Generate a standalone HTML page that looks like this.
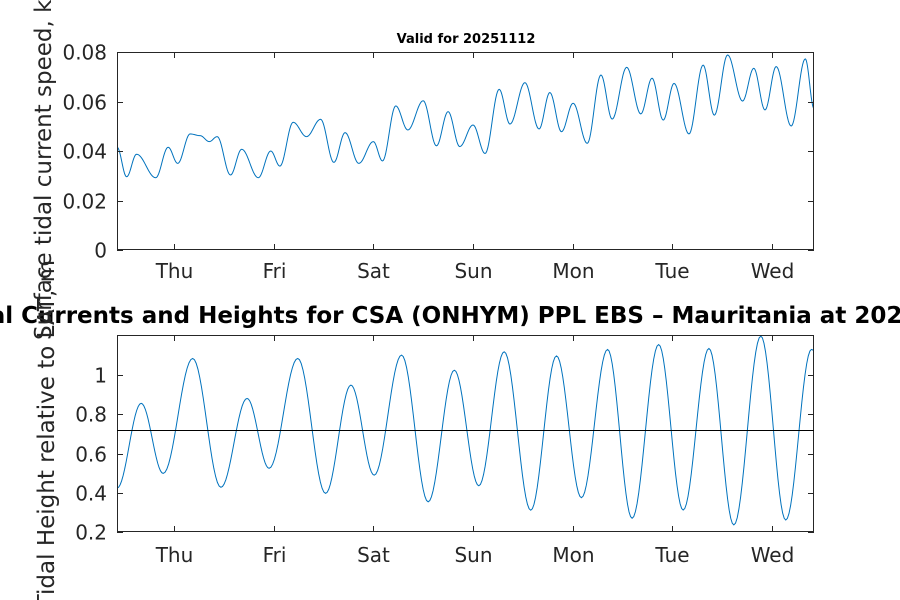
<!DOCTYPE html>
<html><head><meta charset="utf-8"><style>
html,body{margin:0;padding:0;background:#fff;}
svg{display:block;font-family:"DejaVu Sans","Liberation Sans",sans-serif;}
</style></head><body>
<svg id="c" width="900" height="600" viewBox="0 0 900 600"></svg>
<script>
// Top chart data: hours since Thursday 00:00, current speed (kn)
const speedHours = [-13.7,-11.4,-9.0,-4.4,-1.4,0.9,3.9,6.3,8.5,10.4,13.6,16.3,20.3,23.3,25.5,28.7,31.9,35.3,38.5,41.2,44.5,48.0,50.2,53.4,56.3,60.0,63.2,66.0,68.8,72.0,74.9,78.3,80.9,84.5,87.9,90.5,93.3,96.1,99.5,102.8,105.5,109.0,112.4,115.1,117.8,120.4,124.0,127.4,130.1,133.3,136.9,139.6,142.3,145.0,148.6,152.0,154.1];
const speedValues = [0.0415,0.0296,0.0387,0.0292,0.0415,0.035,0.0469,0.0462,0.0438,0.0458,0.0303,0.0407,0.0292,0.040,0.0339,0.0516,0.0458,0.0528,0.0354,0.0474,0.035,0.0438,0.036,0.0582,0.0485,0.0603,0.0421,0.0559,0.0418,0.0505,0.039,0.0649,0.0509,0.0676,0.0489,0.0636,0.0478,0.0593,0.0431,0.0707,0.0529,0.0738,0.055,0.0694,0.0525,0.0673,0.0469,0.0747,0.0545,0.0788,0.0602,0.0734,0.0566,0.0741,0.0501,0.0772,0.0572];
// Bottom chart data: hours since Thursday 00:00, height (m)
const heightHours = [-13.7,-7.9,-2.6,4.5,11.3,17.6,22.9,29.8,36.5,42.6,48.2,54.8,61.2,67.5,73.4,79.5,85.9,92.1,98.1,104.4,110.3,116.7,122.6,128.8,134.8,141.3,147.3,153.5,154.1];
const heightValues = [0.424,0.856,0.499,1.085,0.428,0.881,0.525,1.085,0.397,0.949,0.490,1.102,0.354,1.025,0.436,1.119,0.311,1.098,0.375,1.131,0.270,1.156,0.312,1.136,0.236,1.199,0.261,1.131,1.125];
const meanLevel = 0.72;
const dayLabels = ["Thu","Fri","Sat","Sun","Mon","Tue","Wed"];
const dayHours = [0,24,48,72,96,120,144];
const speedTicks = [0,0.02,0.04,0.06,0.08];
const speedTickLabels = ["0","0.02","0.04","0.06","0.08"];
const heightTicks = [0.2,0.4,0.6,0.8,1.0];
const heightTickLabels = ["0.2","0.4","0.6","0.8","1"];

const svg = document.getElementById('c');
const NS = 'http://www.w3.org/2000/svg';
function mk(tag, attrs, parent){
  const e = document.createElementNS(NS, tag);
  for (const k in attrs) e.setAttribute(k, attrs[k]);
  (parent||svg).appendChild(e);
  return e;
}
const X0 = 117, X1 = 814, H0 = -13.72, H1 = 154.1;
const xs = h => X0 + (h - H0) / (H1 - H0) * (X1 - X0);

function drawPanel(name, top, bot, vmin, vmax, ticks, tickLabels, hours, vals, dayY){
  const ys = v => bot - (v - vmin) / (vmax - vmin) * (bot - top);
  const g = mk('g', {});
  
  
  let d = '';
  for (let i = 0; i < hours.length - 1; i++) {
    const a = hours[i], b = hours[i+1], va = vals[i], vb = vals[i+1];
    const n = 16;
    for (let k = (i === 0 ? 0 : 1); k <= n; k++) {
      const s = k / n;
      const h = a + (b - a) * s;
      const v = va + (vb - va) * (1 - Math.cos(Math.PI * s)) / 2;
      d += (d ? 'L' : 'M') + xs(h).toFixed(2) + ',' + ys(v).toFixed(2);
    }
  }
  const clip = mk('clipPath', {id: name + '-clip'}, g);
  mk('rect', {x: X0, y: top, width: X1 - X0, height: bot - top}, clip);
  const line = mk('path', {d: d, fill: 'none', stroke: '#0072bd', 'stroke-width': 1, 'clip-path': 'url(#' + name + '-clip)'}, g);
  
  
  const box = mk('rect', {x: X0 + 0.5, y: top + 0.5, width: X1 - X0 - 1, height: bot - top - 1, fill: 'none', stroke: '#262626', 'stroke-width': 1}, g);
  
  
  ticks.forEach((t, i) => {
    const y = Math.round(ys(t)) + 0.5;
    mk('line', {x1: X0, x2: X0 + 6, y1: y, y2: y, stroke: '#262626'}, g);
    mk('line', {x1: X1 - 6, x2: X1, y1: y, y2: y, stroke: '#262626'}, g);
    const tl = mk('text', {x: 107, y: y + 7, 'text-anchor': 'end', 'font-size': 20, fill: '#262626'}, g);
    tl.textContent = tickLabels[i];
    
    
  });
  dayHours.forEach((h, i) => {
    const x = Math.round(xs(h)) + 0.5;
    mk('line', {x1: x, x2: x, y1: top, y2: top + 6, stroke: '#262626'}, g);
    mk('line', {x1: x, x2: x, y1: bot - 6, y2: bot, stroke: '#262626'}, g);
    const tl = mk('text', {x: x, y: dayY, 'text-anchor': 'middle', 'font-size': 20, fill: '#262626'}, g);
    tl.textContent = dayLabels[i];
    
    
  });
  return ys;
}

drawPanel('speed', 52, 250, 0, 0.08, speedTicks, speedTickLabels, speedHours, speedValues, 278);
const ysH = drawPanel('height', 335, 532, 0.2, 1.2046, heightTicks, heightTickLabels, heightHours, heightValues, 562);
const my = Math.round(ysH(meanLevel)) + 0.5;
const ml = mk('line', {x1: X0, x2: X1, y1: my, y2: my, stroke: '#000', 'stroke-width': 1});



const t1 = mk('text', {x: 466, y: 43, 'text-anchor': 'middle', 'font-size': 13, 'font-weight': 'bold', fill: '#000'});
t1.textContent = 'Valid for 20251112';


const t2 = mk('text', {x: 466, y: 323, 'text-anchor': 'middle', 'font-size': 23, 'font-weight': 'bold', fill: '#000'});
t2.textContent = 'Tidal Currents and Heights for CSA (ONHYM) PPL EBS  \u2013 Mauritania at 20251112';
t2.setAttribute('xml:space', 'preserve');


const yl1 = mk('text', {x: 0, y: 0, 'text-anchor': 'start', 'font-size': 23, fill: '#262626', transform: 'translate(51,340) rotate(-90)'});
yl1.textContent = 'Surface tidal current speed, kn';


const yl2 = mk('text', {x: 0, y: 0, 'text-anchor': 'end', 'font-size': 23, fill: '#262626', transform: 'translate(54,260) rotate(-90)'});
yl2.textContent = 'Tidal Height relative to LAT, m';


</script>
</body></html>
